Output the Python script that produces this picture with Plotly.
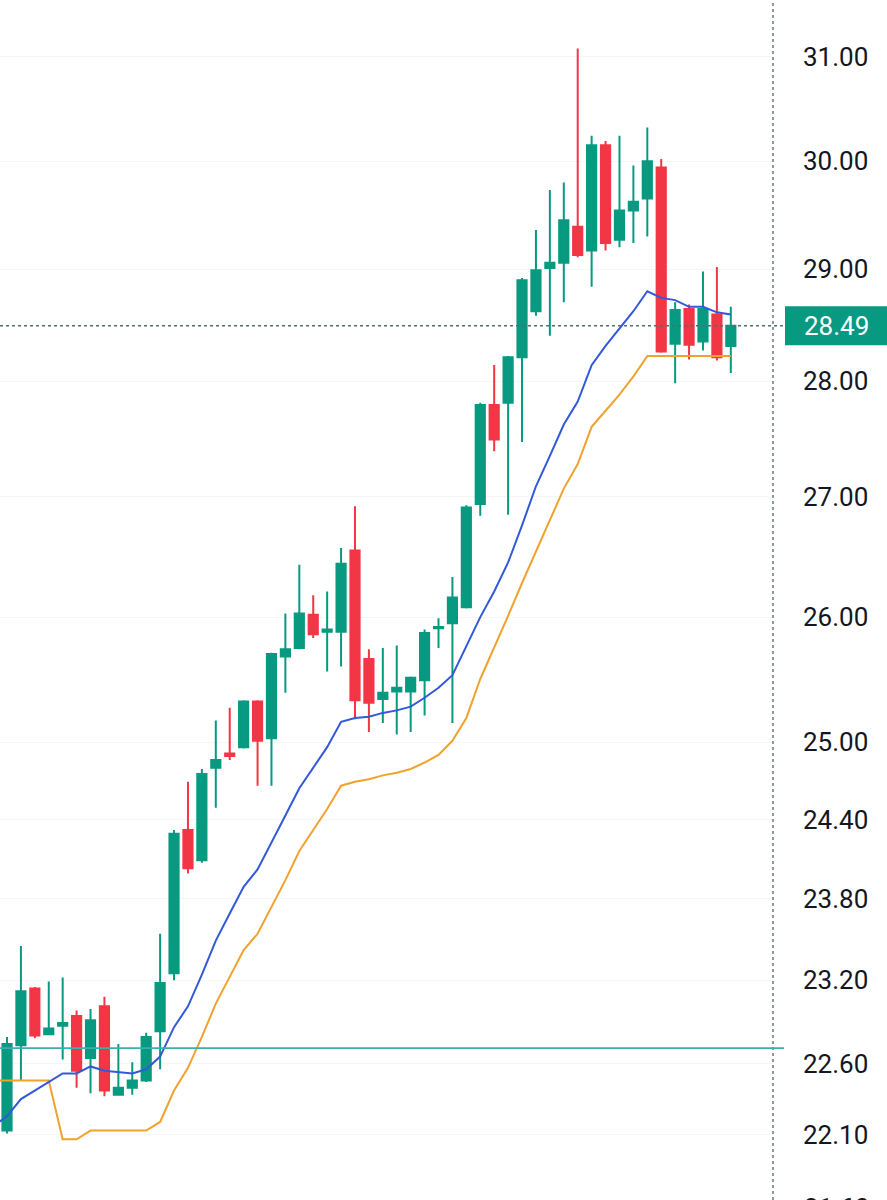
import math
import plotly.graph_objects as go

# ---------------- data ----------------
candle_index = list(range(53))
opens = [22.13, 22.73, 23.14, 22.81, 22.87, 22.94, 22.64, 23.01, 22.38, 22.43,
         22.48, 22.83, 23.25, 24.32, 24.09, 24.80, 24.91, 24.96, 25.32, 25.03,
         25.68, 25.75, 26.02, 25.88, 25.88, 26.55, 25.66, 25.34, 25.40, 25.40,
         25.49, 25.91, 25.95, 26.08, 26.94, 27.79, 27.81, 28.21, 28.62, 29.01,
         29.06, 29.39, 29.17, 30.15, 29.27, 29.54, 29.65, 29.94, 28.33, 28.64,
         28.35, 28.59, 28.31]
highs = [22.79, 23.45, 23.15, 23.19, 23.22, 22.98, 22.99, 23.08, 22.74, 22.61,
         22.82, 23.54, 24.32, 24.69, 24.79, 25.17, 25.27, 25.33, 25.33, 25.71,
         26.03, 26.43, 26.18, 26.21, 26.57, 26.92, 25.74, 25.75, 25.77, 25.52,
         25.90, 25.99, 26.33, 26.93, 27.81, 28.14, 28.22, 28.92, 29.36, 29.73,
         29.80, 31.08, 30.24, 30.19, 30.24, 29.96, 30.32, 30.02, 28.70, 28.68,
         28.98, 29.02, 28.66]
lows = [22.11, 22.48, 22.78, 22.81, 22.63, 22.43, 22.39, 22.37, 22.38, 22.38,
        22.47, 22.56, 23.20, 23.99, 24.07, 24.49, 24.86, 24.95, 24.66, 24.66,
        25.39, 25.74, 25.83, 25.56, 25.60, 25.18, 25.08, 25.15, 25.06, 25.08,
        25.21, 25.75, 25.15, 26.07, 26.84, 27.39, 26.85, 27.47, 28.58, 28.40,
        28.70, 29.11, 28.84, 29.17, 29.20, 29.24, 29.30, 28.25, 27.98, 28.19,
        28.27, 28.18, 28.07]
closes = [22.74, 23.12, 22.80, 22.85, 22.89, 22.55, 22.91, 22.41, 22.43, 22.48,
          22.79, 23.18, 24.29, 24.03, 24.75, 24.86, 24.89, 25.32, 25.01, 25.70,
          25.74, 26.03, 25.86, 25.90, 26.44, 25.33, 25.31, 25.39, 25.43, 25.51,
          25.87, 25.92, 26.16, 26.91, 27.79, 27.49, 28.21, 28.90, 28.99, 29.06,
          29.45, 29.13, 30.15, 29.24, 29.54, 29.62, 30.00, 28.26, 28.63, 28.32,
          28.64, 28.21, 28.49]

line_index = list(range(-1, 53))
blue_line = [22.16, 22.23, 22.35, 22.41, 22.47, 22.53, 22.53, 22.58, 22.55, 22.54,
             22.53, 22.56, 22.65, 22.86, 23.01, 23.24, 23.49, 23.69, 23.89, 24.02,
             24.23, 24.43, 24.64, 24.80, 24.96, 25.16, 25.19, 25.20, 25.23, 25.25,
             25.28, 25.35, 25.43, 25.53, 25.76, 26.00, 26.21, 26.45, 26.76, 27.09,
             27.35, 27.62, 27.82, 28.14, 28.31, 28.46, 28.62, 28.80, 28.74, 28.72,
             28.66, 28.66, 28.61, 28.59]
orange_line = [22.48, 22.48, 22.48, 22.48, 22.48, 22.07, 22.07, 22.13, 22.13, 22.13,
               22.13, 22.13, 22.19, 22.41, 22.57, 22.79, 23.03, 23.23, 23.42, 23.54,
               23.74, 23.94, 24.16, 24.32, 24.48, 24.66, 24.69, 24.71, 24.74, 24.76,
               24.79, 24.84, 24.90, 25.01, 25.19, 25.50, 25.75, 26.01, 26.28, 26.54,
               26.80, 27.07, 27.28, 27.60, 27.74, 27.88, 28.04, 28.22, 28.22, 28.22,
               28.22, 28.22, 28.22, 28.22]

tick_vals = [22.1, 22.6, 23.2, 23.8, 24.4, 25.0, 26.0, 27.0, 28.0, 29.0, 30.0, 31.0]
tick_text = ["22.10", "22.60", "23.20", "23.80", "24.40", "25.00", "26.00",
             "27.00", "28.00", "29.00", "30.00", "31.00"]
cut_tick_val = 21.6
cut_tick_text = "21.60"
support_level = 22.71
y_top, y_bottom = 31.557, 21.653
x_left, x_right = -0.503, 55.03

# ---------------- style ----------------
GREEN = "#089981"
RED = "#F23645"
BLUE = "#3159DA"
ORANGE = "#F0A22E"
TEXT = "#131722"
FONT = "Roboto"
FS = 26

lo, hi = math.log10(y_bottom), math.log10(y_top)


def to_paper(v):
    return (math.log10(v) - lo) / (hi - lo)


W, H = 887, 1200
plot_right_px = 773
R_MARGIN = W - plot_right_px


def px_to_paper_x(px):
    return px / plot_right_px


fig = go.Figure()

fig.add_trace(go.Scatter(
    x=line_index, y=orange_line, mode="lines",
    line=dict(color=ORANGE, width=2), hoverinfo="skip", showlegend=False))
fig.add_trace(go.Scatter(
    x=line_index, y=blue_line, mode="lines",
    line=dict(color=BLUE, width=2), hoverinfo="skip", showlegend=False))

fig.add_trace(go.Candlestick(
    x=candle_index, open=opens, high=highs, low=lows, close=closes,
    increasing=dict(line=dict(color=GREEN, width=2), fillcolor=GREEN),
    decreasing=dict(line=dict(color=RED, width=2), fillcolor=RED),
    whiskerwidth=0, showlegend=False))

last_price = closes[-1]

shapes = [
    dict(type="line", xref="paper", yref="paper", x0=1, x1=1, y0=0, y1=1,
         line=dict(color="#4F6672", width=1.3, dash="dot"), layer="above"),
    dict(type="line", xref="paper", yref="paper", x0=0, x1=px_to_paper_x(784),
         y0=to_paper(support_level), y1=to_paper(support_level),
         line=dict(color="#3AAFB0", width=1.6), layer="above"),
    dict(type="line", xref="paper", yref="paper", x0=0, x1=px_to_paper_x(784),
         y0=to_paper(last_price), y1=to_paper(last_price),
         line=dict(color="#4D6E78", width=1.3, dash="dot"), layer="above"),
    dict(type="rect", xref="paper", yref="paper",
         x0=px_to_paper_x(785), x1=px_to_paper_x(890),
         ysizemode="pixel", yanchor=to_paper(last_price), y0=-19.5, y1=19.5,
         fillcolor=GREEN, line=dict(width=0), layer="above"),
]

annotations = [
    dict(xref="paper", yref="paper", x=px_to_paper_x(802), y=to_paper(last_price),
         text=f"{last_price:.2f}", showarrow=False, xanchor="left", yanchor="middle",
         font=dict(family=FONT, size=FS, color="white")),
    dict(xref="paper", yref="paper", x=px_to_paper_x(802), y=to_paper(cut_tick_val),
         text=cut_tick_text, showarrow=False, xanchor="left", yanchor="middle",
         font=dict(family=FONT, size=FS, color=TEXT)),
]

fig.update_layout(
    width=W, height=H,
    margin=dict(l=0, r=R_MARGIN, t=0, b=0, pad=0),
    paper_bgcolor="white", plot_bgcolor="white",
    showlegend=False,
    boxgap=0.34, boxgroupgap=0,
    shapes=shapes, annotations=annotations,
    xaxis=dict(range=[x_left, x_right], showgrid=False, zeroline=False,
               showticklabels=False, ticks="", showline=False,
               rangeslider=dict(visible=False), fixedrange=True),
    yaxis=dict(type="log", range=[lo, hi], side="right",
               tickvals=tick_vals, ticktext=tick_text,
               showgrid=True, gridcolor="#F5F6F8", gridwidth=1,
               zeroline=False, showline=False, ticks="",
               ticklabelstandoff=29, automargin=False,
               tickfont=dict(family=FONT, size=FS, color=TEXT)),
)

fig.write_html("out.html")
